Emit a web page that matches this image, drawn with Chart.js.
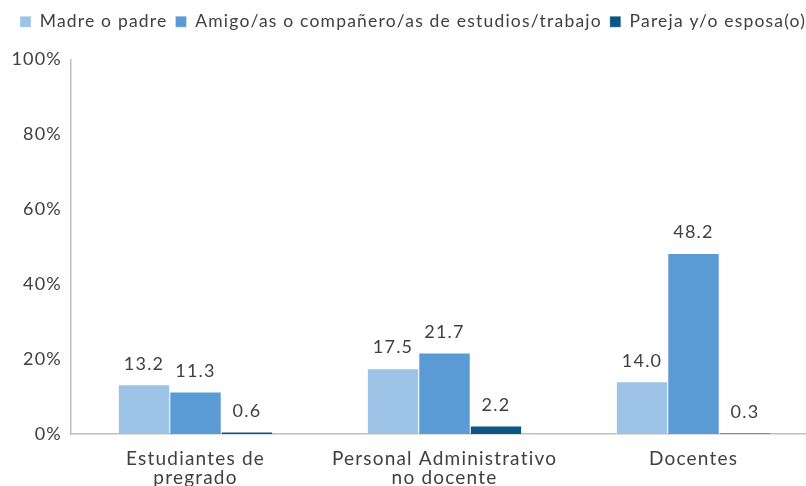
<!DOCTYPE html>
<html>
<head>
<meta charset="utf-8">
<script src="https://cdn.jsdelivr.net/npm/chart.js@4/dist/chart.umd.min.js"></script>
<style>
  html, body { margin: 0; padding: 0; overflow: hidden; background: #fff; }
  #wrap { position: absolute; left: 0; top: 0; width: 832px; height: 503px; }
</style>
</head>
<body>
<div id="wrap"><canvas id="c"></canvas></div>
<script>
const categories = [["Estudiantes de", "pregrado"], ["Personal Administrativo", "no docente"], ["Docentes"]];
const seriesNames = ["Madre o padre", "Amigo/as o compañero/as de estudios/trabajo", "Pareja y/o esposa(o)"];
const madrePadre = [13.2, 17.5, 14.0];
const amigos = [11.3, 21.7, 48.2];
const pareja = [0.6, 2.2, 0.3];
const yTicks = [0, 20, 40, 60, 80, 100];

const colors = ["#9DC3E6", "#5B9BD5", "#0B5682"];
const textColor = "#404040";
const fontFamily = "Lato, 'Open Sans', sans-serif";
const spacing = "1.2px";

const letterSpacingPlugin = {
  id: "letterSpacing",
  beforeInit(chart) {
    chart.ctx.letterSpacing = spacing;
    const lg = chart.legend;
    if (lg) {
      const orig = lg.fit;
      lg.fit = function () { orig.call(this); this.height += 19; };
    }
  },
  beforeUpdate(chart) { chart.ctx.letterSpacing = spacing; },
  beforeLayout(chart) { chart.ctx.letterSpacing = spacing; },
  beforeDraw(chart) { chart.ctx.letterSpacing = spacing; }
};

const valueLabels = {
  id: "valueLabels",
  afterDatasetsDraw(chart) {
    const ctx = chart.ctx;
    ctx.save();
    ctx.letterSpacing = spacing;
    ctx.font = "18px " + fontFamily;
    ctx.fillStyle = textColor;
    ctx.textAlign = "center";
    ctx.textBaseline = "bottom";
    chart.data.datasets.forEach((ds, i) => {
      const meta = chart.getDatasetMeta(i);
      meta.data.forEach((bar, j) => {
        ctx.fillText(ds.data[j].toFixed(1), bar.x, bar.y - 12);
      });
    });
    ctx.restore();
  }
};

const allSeries = [madrePadre, amigos, pareja];
new Chart(document.getElementById("c"), {
  type: "bar",
  data: {
    labels: categories,
    datasets: allSeries.map((d, i) => ({
      label: seriesNames[i],
      data: d,
      backgroundColor: colors[i],
      borderColor: "rgba(255,255,255,0.6)",
      borderWidth: 0.5,
      categoryPercentage: 0.62,
      barPercentage: 1.0
    }))
  },
  options: {
    responsive: true,
    maintainAspectRatio: false,
    animation: false,
    layout: { padding: { left: 8, right: 14, top: 5, bottom: 0 } },
    plugins: {
      legend: {
        position: "top",
        labels: {
          color: textColor,
          font: { family: fontFamily, size: 17.5 },
          boxWidth: 11,
          boxHeight: 11,
          padding: 8
        }
      },
      tooltip: { enabled: false }
    },
    scales: {
      x: {
        grid: { display: false, drawTicks: false },
        border: { color: "#BFBFBF", width: 1.5 },
        ticks: {
          color: textColor,
          font: { family: fontFamily, size: 19, lineHeight: 1.02 },
          padding: 15,
          maxRotation: 0,
          autoSkip: false
        }
      },
      y: {
        min: 0,
        max: 100,
        afterBuildTicks(scale) { scale.ticks = yTicks.map(v => ({ value: v })); },
        grid: { display: false, drawTicks: false },
        border: { color: "#BFBFBF", width: 1.5 },
        ticks: {
          color: textColor,
          font: { family: fontFamily, size: 18 },
          padding: 9,
          callback: v => v + "%"
        },
        afterFit(scale) { scale.width = 63; }
      }
    }
  },
  plugins: [letterSpacingPlugin, valueLabels]
});
</script>
</body>
</html>
